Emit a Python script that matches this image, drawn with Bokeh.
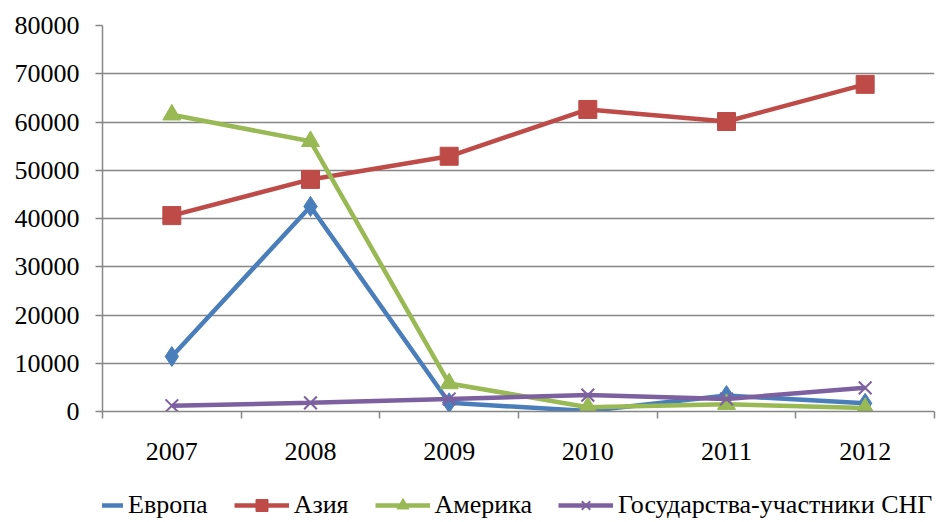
from bokeh.plotting import figure
from bokeh.layouts import column
from bokeh.models import FixedTicker, Legend, LegendItem, Range1d
from bokeh.embed import file_html
from bokeh.resources import INLINE

years = [2007, 2008, 2009, 2010, 2011, 2012]
europe = [11400, 42500, 1800, 100, 3300, 1700]
asia = [40600, 48100, 52900, 62600, 60100, 67800]
america = [61500, 56000, 5800, 900, 1500, 700]
cis = [1200, 1800, 2600, 3400, 2600, 4900]
y_ticks = [0, 10000, 20000, 30000, 40000, 50000, 60000, 70000, 80000]

names = ["Европа", "Азия", "Америка", "Государства-участники СНГ"]
colors = ["#4A7EBB", "#BE4B48", "#98B954", "#7D60A0"]
FONT = "Liberation Serif"

W = 942
p = figure(width=W, height=470, output_backend="svg", toolbar_location=None,
           x_range=Range1d(years[0] - 0.5, years[-1] + 0.5),
           y_range=Range1d(y_ticks[0], y_ticks[-1]),
           min_border_left=102, min_border_right=8, min_border_top=25,
           min_border_bottom=59)
p.outline_line_color = None

gray = "#868686"
p.yaxis.ticker = FixedTicker(ticks=y_ticks)
p.yaxis.axis_line_color = gray
p.yaxis.axis_line_width = 1.5
p.yaxis.major_tick_line_color = gray
p.yaxis.major_tick_line_width = 1.5
p.yaxis.major_tick_out = 7
p.yaxis.major_tick_in = 0
p.yaxis.minor_tick_line_color = None
p.yaxis.major_label_text_font = FONT
p.yaxis.major_label_text_font_size = "26px"
p.yaxis.major_label_text_color = "black"
p.yaxis.major_label_standoff = 16

minor = [y - 0.5 for y in years] + [years[-1] + 0.5]
p.xaxis.ticker = FixedTicker(ticks=years, minor_ticks=minor)
p.xaxis.axis_line_color = gray
p.xaxis.axis_line_width = 1.5
p.xaxis.major_tick_line_color = None
p.xaxis.minor_tick_line_color = gray
p.xaxis.minor_tick_line_width = 1.5
p.xaxis.minor_tick_out = 7
p.xaxis.minor_tick_in = 0
p.xaxis.major_label_text_font = FONT
p.xaxis.major_label_text_font_size = "26px"
p.xaxis.major_label_text_color = "black"
p.xaxis.major_label_standoff = 24

p.xgrid.grid_line_color = None
p.ygrid.ticker = FixedTicker(ticks=y_ticks)
p.ygrid.grid_line_color = gray
p.ygrid.grid_line_width = 1.5

series = [europe, asia, america, cis]
markers = ["diamond", "square", "triangle", "x"]
sizes = [20, 18, 18, 18]

# legend strip (its own small figure, no axes)
lg = figure(width=W, height=52, output_backend="svg", toolbar_location=None,
            x_range=Range1d(0, 1), y_range=Range1d(0, 1),
            x_axis_location=None, y_axis_location=None,
            min_border_left=0, min_border_right=0, min_border_top=0,
            min_border_bottom=0)
lg.grid.grid_line_color = None
lg.outline_line_color = None

off = [-10]
items = []
for name, vals, col, mk, sz in zip(names, series, colors, markers, sizes):
    p.line(years, vals, line_color=col, line_width=4.5)
    if mk == "x":
        p.scatter(years, vals, marker="x", size=sz, line_color=col, line_width=2)
    else:
        p.scatter(years, vals, marker=mk, size=sz, fill_color=col, line_color=col)
    l1 = lg.line(off, off, line_color=col, line_width=4.5)
    if mk == "x":
        l2 = lg.scatter(off, off, marker="x", size=sz, line_color=col, line_width=2)
    else:
        l2 = lg.scatter(off, off, marker=mk, size=sz, fill_color=col, line_color=col)
    items.append(LegendItem(label=name, renderers=[l1, l2]))

legend = Legend(items=items, orientation="horizontal", location=(-34, 2),
                label_text_font=FONT, label_text_font_size="26px",
                label_text_color="black", glyph_width=55, glyph_height=30,
                spacing=26, label_standoff=5, border_line_color=None,
                background_fill_alpha=0, padding=0, margin=0)
lg.add_layout(legend, "center")

open("out.html", "w").write(file_html(column(p, lg, spacing=0), INLINE))
